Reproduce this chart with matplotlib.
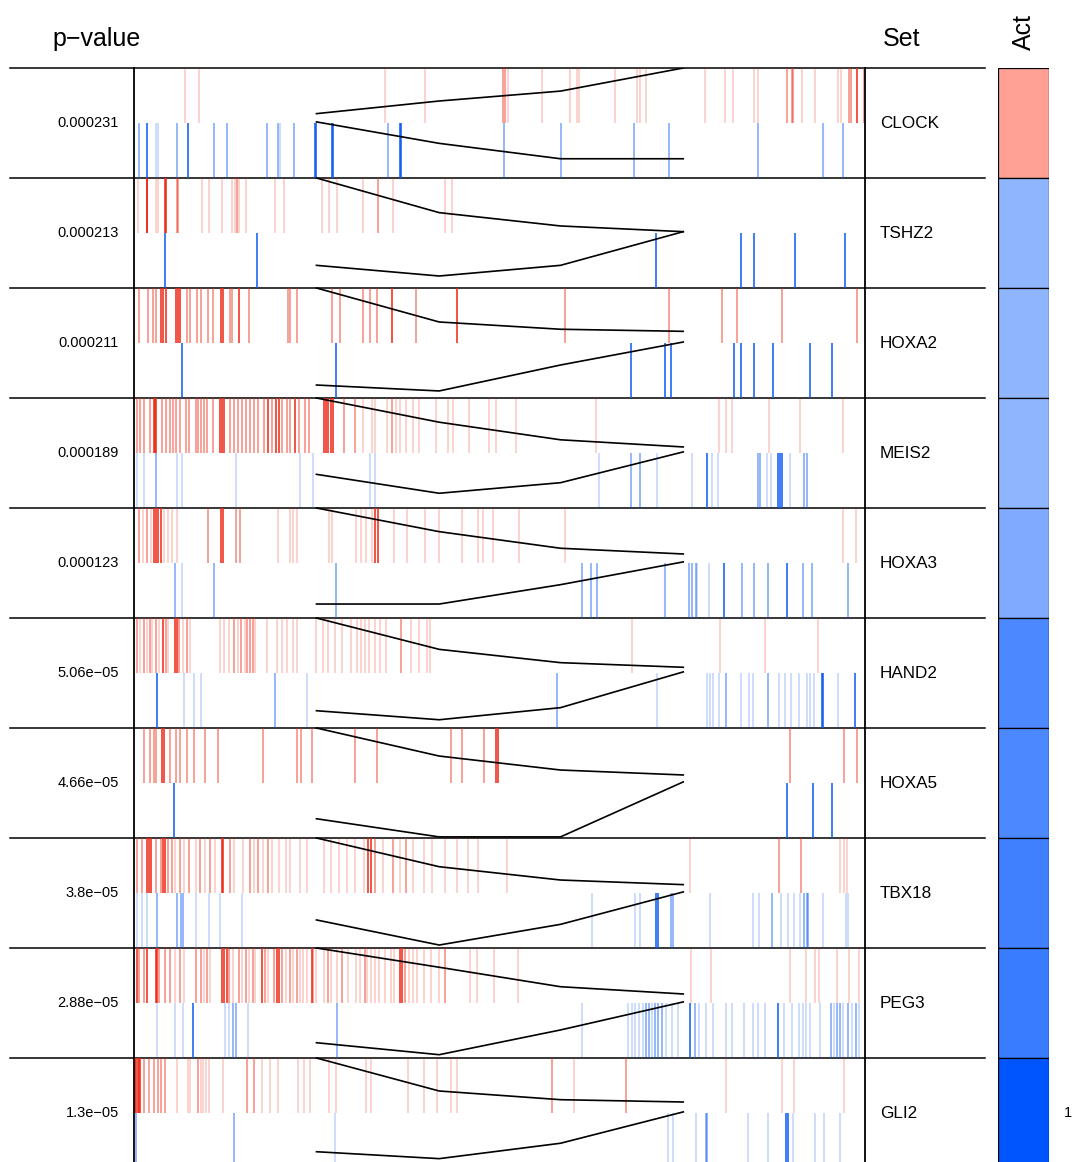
import matplotlib
matplotlib.use('Agg')
import matplotlib.pyplot as plt
from matplotlib.colors import to_rgba, LinearSegmentedColormap
from matplotlib.transforms import blended_transform_factory

plt.rcParams['font.family'] = ['Liberation Sans', 'DejaVu Sans']

# ---- data ----
genes = ['CLOCK', 'TSHZ2', 'HOXA2', 'MEIS2', 'HOXA3', 'HAND2', 'HOXA5', 'TBX18', 'PEG3', 'GLI2']
pvalues = ['0.000231', '0.000213', '0.000211', '0.000189', '0.000123',
           '5.06e\u221205', '4.66e\u221205', '3.8e\u221205', '2.88e\u221205', '1.3e\u221205']
activity = [0.42, -0.43, -0.43, -0.43, -0.5, -0.7, -0.7, -0.75, -0.77, -1.0]

# hit positions along the ranked signature (rank, suffix = intensity l/m/s)
red_hits = [
    "117 147 540 625 790m 795m 801 872 932 946 951 1028 1075 1080 1093 1219 1261 1278 1322 1330 "
    "1391m 1402m 1405m 1424 1452 1500 1506 1524m 1527m 1541s 1555m",
    "18 35s 37s 56 60 74s 76s 99m 102m 152 167 195 217 223 226m 231 246 307 326 406 421 438 493 525m 558 668 682",
    "20m 38m 48m 55m 66s 70s 76s 98s 101s 106s 121m 128m 142m 151m 166m 176m 193s 196s 211m 216m 231s 253m "
    "335m 340m 353m 428m 445m 494m 509m 523m 554s 606m 693s 922m 1141m 1254m 1286m 1382m 1541m",
    "15m 22m 30m 42m 50s 53s 56s 68m 76m 85m 92m 98m 107m 118m 125m 140m 145m 150m 157m 163m 176m 190s 195s 200s "
    "212m 220m 228m 238m 245m 255m 263m 272m 283m 293s 300m 310s 315s 323m 332m 340m 350s 358m 370m 380m "
    "410s 415s 420s 425s 430s 453m 477m 494 512 520 545 556m 564 573 585 600 612 648 673 685 718 760 775 818 "
    "988 1248 1262 1276 1354 1419 1511",
    "20m 28 35m 45 50s 55s 60s 65s 72 80 88 100 165m 192s 197s 225m 232m 313 340 345 353 422 428 479 490 500 "
    "513 520s 525s 559 587 625 655 704 738 748 769 823 922 1510 1537",
    "15m 22 30m 37 42m 47 55m 62 70s 76m 80 95s 99s 104m 112 120m 127 190 200 210 220m 228 235m 243 248m 255m "
    "260m 265 290 312 323 333 345 354 395 408 420 435 450 469 480 489 498 506 519 530 543 574m 596 612 629 636 "
    "1063 1249 1345 1458",
    "30m 42m 50m 55m 68s 73s 85m 97m 107m 121m 136m 159m 186m 282m 354m 362m 386m 476m 523m 679m 704m 750m "
    "776s 779s 1399m 1512m 1541m",
    "15m 25m 35s 40s 44s 55m 65m 70s 75s 80m 88m 95 105m 115 125m 140 148m 158 170m 180 194s 197s 212m 220 240 "
    "255m 262 272m 282 292m 300 315 330 340 360 375 410 425 442 459 477 495 505s 510s 520m 535 558m 572 585m "
    "600 622 640 668 692 715 738 798 1186 1374m 1422m 1505 1512 1519",
    "15s 20m 30m 37s 55s 58s 62m 75m 85m 96 105m 115 140m 150m 157 163m 170 195s 200s 205s 210m 218 230m 238 "
    "245m 252 260m 265 280s 285m 293 305m 311s 315s 323m 330 338m 345 353m 360 367 375 385s 388m 395 410 420m "
    "425 438 450m 462 478 488 497m 503 510 520 528 540 552 560 573s 577s 582m 590 600 608 622 638 654 668m 720 "
    "735 772 822 1189 1230 1398 1432 1452 1460 1497 1523 1545",
    "10s 13s 16s 19s 22s 30m 40m 50m 60m 66m 75m 100 123 128 145m 150 155 162 168 198 248m 262m 280 296 314 "
    "356 368 382 421 436 500 511 588 622 650 681 693 893m 941 1050m 1263 1381 1407 1512",
]
blue_hits = [
    "20m 37s 55 60 100m 123s 178m 205m 290m 313m 318 347m 392s 394s 427s 430s 546m 572s 574s 792m 912m "
    "1068m 1141m 1331m 1468m 1511m",
    "74s 270s 1115s 1295s 1321s 1409s 1515s",
    "111s 437s 1061s 1133s 1145s 1280s 1295s 1322s 1362s 1441s 1488s",
    "15 30 55m 99 111 225 360 388 508 519 993 1061m 1080m 1117 1190 1222s 1232 1246 1331m 1335m 1350 1358 "
    "1373s 1377s 1381s 1398 1427m 1435m",
    "95m 110 178m 437m 958m 977m 990m 1134m 1185m 1190m 1198m 1201 1226 1258s 1296m 1322m 1352m 1391s 1425m "
    "1444m 1521m",
    "57s 114 135 150 307m 375 904m 1116 1222 1228 1236 1247 1262m 1295 1311 1319 1352m 1375 1388 1401 1418 "
    "1435 1441 1450 1465s 1469s 1500 1536s",
    "93s 1391s 1446s 1488s",
    "15 25 37 58m 100m 108m 112m 140 167 190 237 978 1070 1080 1114s 1118s 1145m 1150m 1228 1320 1332 1360m "
    "1380 1393 1407 1420 1428m 1434m 1437m 1467 1516 1521",
    "57 96 112 133s 202 210 218m 225m 250 438m 958 1055 1063 1070 1078 1086 1093m 1100m 1105 1113m 1118m "
    "1128m 1135 1148 1160 1186s 1197m 1205 1220 1236 1262 1275 1300 1320 1330 1345 1372s 1386 1402 1418 1425 "
    "1432 1440 1462 1486m 1492 1498m 1505m 1510 1520m 1530 1538m 1545",
    "12m 220m 435 1140 1150 1199 1220m 1222m 1310 1351 1390s 1393s 1405 1452 1471 1504",
]

# running curves (height inside each row, 0 = bottom, 1 = top)
curve_rank = [395, 655, 912, 1172]
red_curve = [
    [0.585, 0.70, 0.79, 1.0],
    [1.0, 0.685, 0.564, 0.512],
    [1.0, 0.691, 0.625, 0.606],
    [1.0, 0.78, 0.62, 0.555],
    [1.0, 0.785, 0.634, 0.582],
    [1.0, 0.715, 0.594, 0.552],
    [1.0, 0.745, 0.618, 0.573],
    [1.0, 0.739, 0.618, 0.576],
    [1.0, 0.825, 0.648, 0.582],
    [1.0, 0.70, 0.621, 0.60],
]
blue_curve = [
    [0.51, 0.315, 0.175, 0.175],
    [0.206, 0.109, 0.206, 0.512],
    [0.118, 0.064, 0.30, 0.509],
    [0.306, 0.134, 0.23, 0.51],
    [0.127, 0.127, 0.303, 0.51],
    [0.157, 0.075, 0.185, 0.51],
    [0.175, 0.01, 0.01, 0.51],
    [0.255, 0.027, 0.215, 0.51],
    [0.139, 0.03, 0.255, 0.51],
    [0.148, 0.085, 0.225, 0.51],
]

RED = '#EE2612'
BLUE = '#0A58F2'
level_alpha = {'l': 0.26, 'm': 0.55, 's': 1.0}


def parse_hits(s):
    xs, lv = [], []
    for tok in s.split():
        if tok[-1].isalpha():
            xs.append(float(tok[:-1]))
            lv.append(tok[-1])
        else:
            xs.append(float(tok))
            lv.append('l')
    return xs, lv


W, H = 1074, 1162
fig = plt.figure(figsize=(W / 100, H / 100), dpi=100)


def fx(px):
    return px / W


def fy(py):
    return 1 - py / H


n = len(genes)
top, bottom = 68, 1168
h_ax = (bottom - top) / H

# background: row separators and labels
ax_bg = fig.add_axes([fx(10), fy(bottom), fx(985) - fx(10), h_ax])
ax_bg.set_xlim(0, 1)
ax_bg.set_ylim(n, 0)
ax_bg.axis('off')
for b in range(n + 1):
    ax_bg.axhline(b, color='black', lw=1.1, clip_on=False)

tr = blended_transform_factory(fig.transFigure, ax_bg.transData)
for i in range(n):
    ax_bg.text(fx(119), i + 0.5, pvalues[i], transform=tr, ha='right', va='center', fontsize=10.5)
    ax_bg.text(fx(880), i + 0.5, genes[i], transform=tr, ha='left', va='center', fontsize=12.3)

# barcode panel
ax = fig.add_axes([fx(134), fy(bottom), fx(865) - fx(134), h_ax])
ax.patch.set_alpha(0)
ax.set_xlim(8.5, 1557)
ax.set_ylim(n, 0)
ax.set_xticks([])
ax.set_yticks([])
for s in ['top', 'bottom']:
    ax.spines[s].set_visible(False)
for s in ['left', 'right']:
    ax.spines[s].set_linewidth(1.3)

for i in range(n):
    xs, lv = parse_hits(red_hits[i])
    ax.vlines(xs, i, i + 0.5, colors=[to_rgba(RED, level_alpha[l]) for l in lv], linewidth=1.1)
    xs, lv = parse_hits(blue_hits[i])
    ax.vlines(xs, i + 0.5, i + 1, colors=[to_rgba(BLUE, level_alpha[l]) for l in lv], linewidth=1.1)
    ax.plot(curve_rank, [i + 1 - v for v in red_curve[i]], color='black', lw=1.2)
    ax.plot(curve_rank, [i + 1 - v for v in blue_curve[i]], color='black', lw=1.2)

# activity column
cmap = LinearSegmentedColormap.from_list('act', ['#0055FF', '#FFFFFF', '#FF2000'])
ax_c = fig.add_axes([fx(998), fy(bottom), fx(1049) - fx(998), h_ax])
ax_c.barh(range(n), 1, height=1, left=0, align='edge',
          color=[cmap((a + 1) / 2) for a in activity], edgecolor='black', linewidth=0.9)
ax_c.set_xlim(0, 1)
ax_c.set_ylim(n, 0)
ax_c.axis('off')
trc = blended_transform_factory(fig.transFigure, ax_c.transData)
ax_c.text(fx(1068), n - 0.5, '1', transform=trc, ha='center', va='center', fontsize=10.5)

# headers
fig.text(fx(97), fy(46), 'p\u2212value', ha='center', va='baseline', fontsize=18)
fig.text(fx(902), fy(46), 'Set', ha='center', va='baseline', fontsize=18)
fig.text(fx(1024), fy(32), 'Act', ha='center', va='center', rotation=90, fontsize=18)

fig.savefig('out.png', dpi=100)
